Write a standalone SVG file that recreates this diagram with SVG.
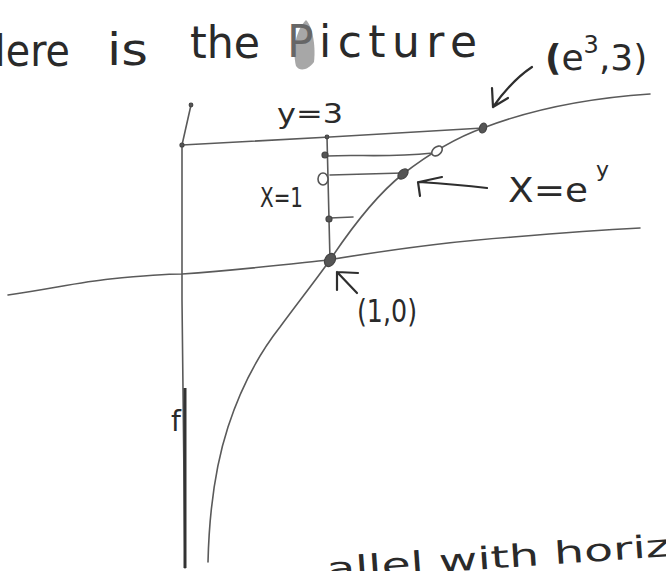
<svg xmlns="http://www.w3.org/2000/svg" width="666" height="571" viewBox="0 0 666 571">
<style>
.ln{fill:none;stroke:#5a5a5a;stroke-width:1.6;stroke-linecap:round;stroke-linejoin:round}
.ink{fill:none;stroke:#2e2e2e;stroke-width:2.2;stroke-linecap:round;stroke-linejoin:round}
.dot{fill:#555;stroke:#444;stroke-width:1.2}
.odot{fill:#fff;stroke:#555;stroke-width:1.6}
.t{font-family:"DejaVu Sans","Liberation Sans",sans-serif;fill:#2a2a2a;font-weight:normal}
</style>
<rect width="666" height="571" fill="#fff"/>
<g id="title">
<path d="M296,66 C292,50 296,30 306,20 C312,26 316,44 314,62 C308,70 300,72 296,66 Z" fill="#8a8a8a" opacity="0.75"/>
<text class="t" x="-24" y="66" font-size="44" textLength="94" lengthAdjust="spacingAndGlyphs">Here</text>
<text class="t" x="107" y="65" font-size="44" textLength="41" lengthAdjust="spacingAndGlyphs">is</text>
<text class="t" x="190" y="58" font-size="44" textLength="70" lengthAdjust="spacingAndGlyphs">the</text>
<text class="t" x="287" y="57" font-size="44" textLength="190" lengthAdjust="spacing"><tspan fill="#666">P</tspan>icture</text>
</g>
<g id="axes">
<path class="ln" d="M191,105 L182,145 L182,300 L185,568"/>
<path d="M185,388 L185,568" stroke="#333" stroke-width="3" fill="none"/>
<path class="ln" d="M8,295 C50,289 80,282 110,279 C140,276 165,274 182,274 C240,270 290,264 328,260 C400,248 470,240 513,237 C560,233 600,230 640,228"/>
</g>
<g id="curve">
<path class="ln" d="M208,562 C209,520 214,470 228,427 C240,390 258,355 280,327 C300,300 318,277 330,260 C342,242 370,200 403,174 C425,157 455,138 483,128 C530,110 590,98 650,94"/>
</g>
<g id="lines">
<path class="ln" d="M182,145 L330,137 L483,128"/>
<path class="ln" d="M327,137 L330,260"/>
<path class="ln" d="M327,156 C360,154 380,158 433,153"/>
<path class="ln" d="M330,175 L403,173"/>
<path class="ln" d="M330,218 L353,217"/>
</g>
<g id="points">
<circle class="dot" cx="182" cy="145" r="2"/>
<circle class="dot" cx="191" cy="105" r="1.8"/>
<circle class="dot" cx="327" cy="137" r="1.8"/>
<circle class="dot" cx="325" cy="155" r="3"/>
<ellipse class="odot" cx="323" cy="179" rx="5" ry="6"/>
<circle class="dot" cx="329" cy="219" r="3"/>
<ellipse class="dot" cx="330" cy="260" rx="5" ry="7" transform="rotate(30 330 260)" fill="#333"/>
<ellipse class="dot" cx="403" cy="174" rx="4" ry="6" transform="rotate(45 403 174)"/>
<ellipse class="odot" cx="437" cy="151" rx="4" ry="6" transform="rotate(50 437 151)"/>
<ellipse class="dot" cx="483" cy="128" rx="3.5" ry="5" transform="rotate(20 483 128)"/>
</g>
<g id="arrows">
<path class="ink" d="M532,67 C520,75 505,90 493,107 M492,88 L493,107 L508,98"/>
<path class="ink" d="M487,188 C470,186 450,184 419,182 M442,177 L419,182 M418,182 L420,196"/>
<path class="ink" d="M357,293 L337,272 M337,272 L337,290 M337,272 L358,273"/>
</g>
<g id="labels">
<text class="t" x="545" y="70" font-size="36"><tspan font-weight="bold">(</tspan>e<tspan font-size="24" dy="-17">3</tspan><tspan dy="17">,3)</tspan></text>
<text class="t" x="277" y="123" font-size="27" textLength="66" lengthAdjust="spacingAndGlyphs">y=3</text>
<text class="t" x="260" y="207" font-size="26" textLength="43" lengthAdjust="spacingAndGlyphs">X=1</text>
<text class="t" x="508" y="202" font-size="34" textLength="80" lengthAdjust="spacingAndGlyphs">X=e</text>
<text class="t" x="596" y="177" font-size="22">y</text>
<text class="t" x="357" y="322" font-size="32" textLength="60" lengthAdjust="spacingAndGlyphs">(1,0)</text>
<text class="t" x="171" y="431" font-size="28">f</text>
<text class="t" x="327" y="580" font-size="31" transform="rotate(-4 327 580)" textLength="345" lengthAdjust="spacingAndGlyphs">allel with horiz</text>
</g>
</svg>
